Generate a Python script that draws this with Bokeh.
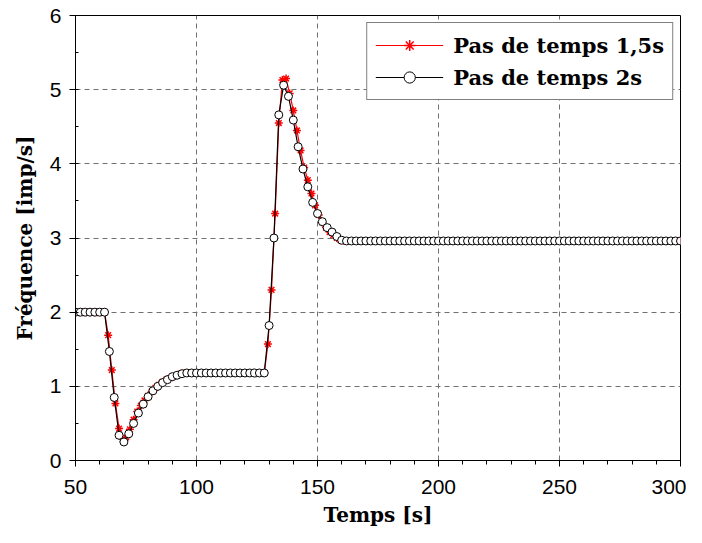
from bokeh.plotting import figure
from bokeh.models import Legend, LegendItem, SingleIntervalTicker, ColumnDataSource
from bokeh.embed import file_html
from bokeh.resources import INLINE

# Series "Pas de temps 2s" (time step 2 s)
t_2s = [50 + 2 * i for i in range(126)]
f_2s = ([2.0] * 7 +
        [1.47, 0.85, 0.34, 0.25, 0.36, 0.50, 0.64, 0.76, 0.86, 0.94, 1.00, 1.05, 1.09, 1.13, 1.15, 1.17] +
        [1.18] * 17 +
        [1.82, 3.00, 4.66, 5.06, 4.91, 4.59, 4.23, 3.93, 3.69, 3.48, 3.33, 3.22, 3.14, 3.08, 3.02] +
        [2.97] +
        [2.96] * 70)

# Series "Pas de temps 1,5s" (time step 1.5 s)
t_15s = [50 + 1.5 * i for i in range(167)]
f_15s = ([2.0] * 9 +
         [1.69, 1.22, 0.77, 0.43, 0.29, 0.31, 0.42, 0.55, 0.66, 0.74, 0.81, 0.87, 0.93, 0.98, 1.02,
          1.06, 1.09, 1.11, 1.13, 1.15, 1.17] +
         [1.18] * 23 +
         [1.57, 2.30, 3.33, 4.55, 5.13, 5.15, 4.95, 4.72, 4.45, 4.18, 3.95, 3.78, 3.60, 3.44, 3.31,
          3.21, 3.14, 3.08, 3.04, 3.00, 2.97] +
         [2.96] * 93)

labels = ["Pas de temps 1,5s", "Pas de temps 2s"]

src_a = ColumnDataSource(dict(t=t_15s, f=f_15s))
src_b = ColumnDataSource(dict(t=t_2s, f=f_2s))

p = figure(width=686, height=535, x_range=(50, 300), y_range=(0, 6),
           output_backend="svg", toolbar_location=None,
           min_border_left=75, min_border_right=6, min_border_top=15, min_border_bottom=75)

p.background_fill_color = "white"
p.border_fill_color = "white"
p.outline_line_color = "black"
p.outline_line_width = 1

p.xaxis.ticker = SingleIntervalTicker(interval=50, num_minor_ticks=5)
p.yaxis.ticker = SingleIntervalTicker(interval=1, num_minor_ticks=2)

for ax in (p.xaxis[0], p.yaxis[0]):
    ax.axis_line_color = "black"
    ax.major_tick_line_color = "black"
    ax.minor_tick_line_color = "black"
    ax.major_label_text_font = "Liberation Sans"
    ax.major_label_text_font_size = "21px"
    ax.major_label_text_color = "black"
    ax.axis_label_text_font = "DejaVu Serif"
    ax.axis_label_text_font_style = "bold"
    ax.axis_label_text_font_size = "20px"
    ax.axis_label_text_color = "black"

p.xaxis.major_tick_in = 0
p.xaxis.major_tick_out = 6
p.xaxis.minor_tick_in = 0
p.xaxis.minor_tick_out = 4
p.yaxis.major_tick_in = 2
p.yaxis.major_tick_out = 6
p.yaxis.minor_tick_in = 3
p.yaxis.minor_tick_out = 0

p.xaxis.axis_label = "Temps [s]"
p.yaxis.axis_label = "Fréquence [imp/s]"
p.xaxis.major_label_standoff = 13
p.yaxis.major_label_standoff = 8
p.xaxis.axis_label_standoff = 6
p.yaxis.axis_label_standoff = 10

p.xgrid.grid_line_color = "#707070"
p.ygrid.grid_line_color = "#707070"
p.xgrid.grid_line_dash = "5 4"
p.ygrid.grid_line_dash = "5 4"
p.xgrid.grid_line_width = 1
p.ygrid.grid_line_width = 1

l1 = p.line("t", "f", source=src_a, line_color="red", line_width=1.2)
s1 = p.scatter("t", "f", source=src_a, marker="asterisk", size=8, line_color="red", line_width=1.5)
l2 = p.line("t", "f", source=src_b, line_color="black", line_width=1.2)
s2 = p.scatter("t", "f", source=src_b, marker="circle", size=8, line_color="black",
               fill_color="white", line_width=1)

legend = Legend(items=[LegendItem(label=labels[0], renderers=[l1, s1]),
                       LegendItem(label=labels[1], renderers=[l2, s2])],
                location="top_right")
legend.label_text_font = "DejaVu Serif"
legend.label_text_font_style = "bold"
legend.label_text_font_size = "21px"
legend.label_text_color = "black"
legend.glyph_width = 68
legend.glyph_height = 28
legend.label_height = 28
legend.label_standoff = 10
legend.spacing = 4
legend.padding = 8
legend.margin = 7
legend.border_line_color = "black"
legend.border_line_width = 1
legend.background_fill_color = "white"
legend.background_fill_alpha = 1
p.add_layout(legend, "center")

open("out.html", "w").write(file_html(p, INLINE))
